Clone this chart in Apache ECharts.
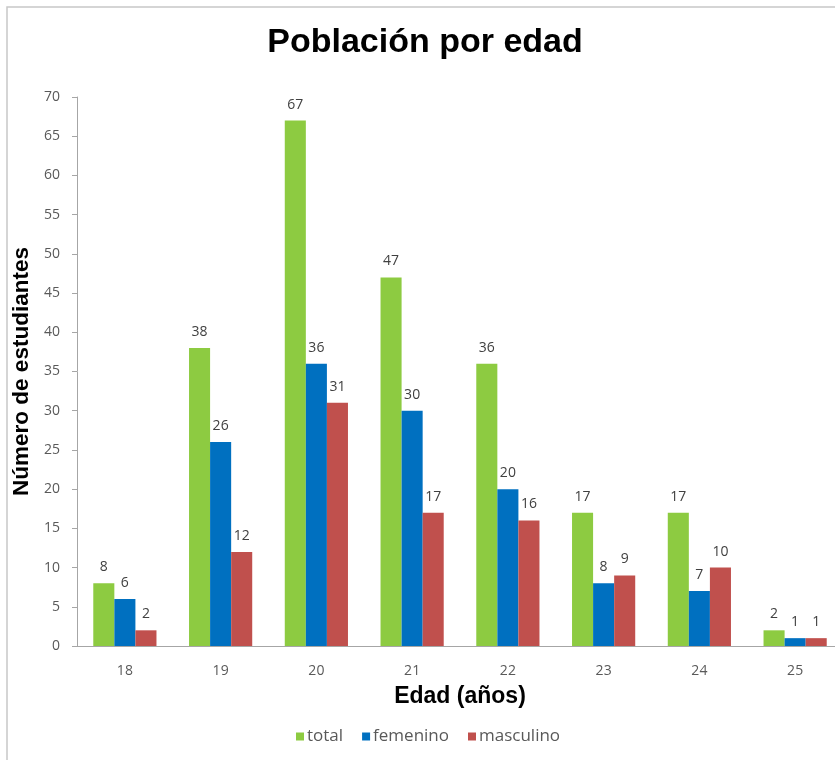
<!DOCTYPE html>
<html>
<head>
<meta charset="utf-8">
<script src="https://cdn.jsdelivr.net/npm/echarts@6/dist/echarts.min.js"></script>
<style>
  html, body { margin: 0; padding: 0; background: #fff; overflow: hidden; }
  /* the canvas runs a little past the right edge of the window */
  #chart { width: 850px; height: 760px; }
</style>
</head>
<body>
<div id="chart"></div>
<script>
// Edad de los estudiantes y número por grupo
const edades = ['18', '19', '20', '21', '22', '23', '24', '25'];
const total = [8, 38, 67, 47, 36, 17, 17, 2];
const femenino = [6, 26, 36, 30, 20, 8, 7, 1];
const masculino = [2, 12, 31, 17, 16, 9, 10, 1];

const labelFont = '"Open Sans", Lato, sans-serif';
const boldFont = '"Liberation Sans", Arial, sans-serif';

function serie(nombre, datos, color) {
  return {
    name: nombre,
    type: 'bar',
    data: datos,
    barGap: '0%',
    barCategoryGap: '34%',
    itemStyle: { color: color },
    label: {
      show: true,
      position: 'top',
      distance: 9,
      color: '#404040',
      fontFamily: labelFont,
      fontSize: 14
    }
  };
}

const chart = echarts.init(document.getElementById('chart'), null, { renderer: 'canvas' });
chart.setOption({
  animation: false,
  backgroundColor: '#ffffff',
  title: {
    text: 'Población por edad',
    left: 'center',
    top: 21,
    textStyle: { fontFamily: boldFont, fontWeight: 'bold', fontSize: 34, color: '#000' }
  },
  graphic: [{
    type: 'rect',
    shape: { x: 7, y: 7, width: 900, height: 800 },
    style: { fill: 'none', stroke: '#c8c8c8', lineWidth: 1.5 },
    silent: true
  }],
  legend: {
    bottom: 10,
    left: 291,
    itemWidth: 8,
    itemHeight: 8,
    itemGap: 19,
    icon: 'rect',
    textStyle: { fontFamily: labelFont, fontSize: 17, color: '#595959', padding: [0, 0, 0, -2] },
    data: ['total', 'femenino', 'masculino']
  },
  grid: { left: 77, right: 7, top: 97, bottom: 114 },
  xAxis: {
    type: 'category',
    data: edades,
    name: 'Edad (años)',
    nameLocation: 'middle',
    nameGap: 39,
    nameTextStyle: { fontFamily: boldFont, fontWeight: 'bold', fontSize: 23, color: '#000' },
    axisLine: { lineStyle: { color: '#a6a6a6' } },
    axisTick: { show: false },
    axisLabel: { margin: 18, fontFamily: labelFont, fontSize: 14, color: '#595959' }
  },
  yAxis: {
    type: 'value',
    min: 0,
    max: 70,
    interval: 5,
    name: 'Número de estudiantes',
    nameLocation: 'middle',
    nameGap: 41,
    nameTextStyle: { fontFamily: boldFont, fontWeight: 'bold', fontSize: 22.5, color: '#000' },
    axisLine: { show: true, lineStyle: { color: '#a6a6a6' } },
    axisTick: { show: true, length: 5, lineStyle: { color: '#a6a6a6' } },
    splitLine: { show: false },
    axisLabel: { margin: 17, fontFamily: labelFont, fontSize: 14, color: '#595959' }
  },
  series: [
    serie('total', total, '#8DCB41'),
    serie('femenino', femenino, '#0070C0'),
    serie('masculino', masculino, '#C0504D')
  ]
});
</script>
</body>
</html>
